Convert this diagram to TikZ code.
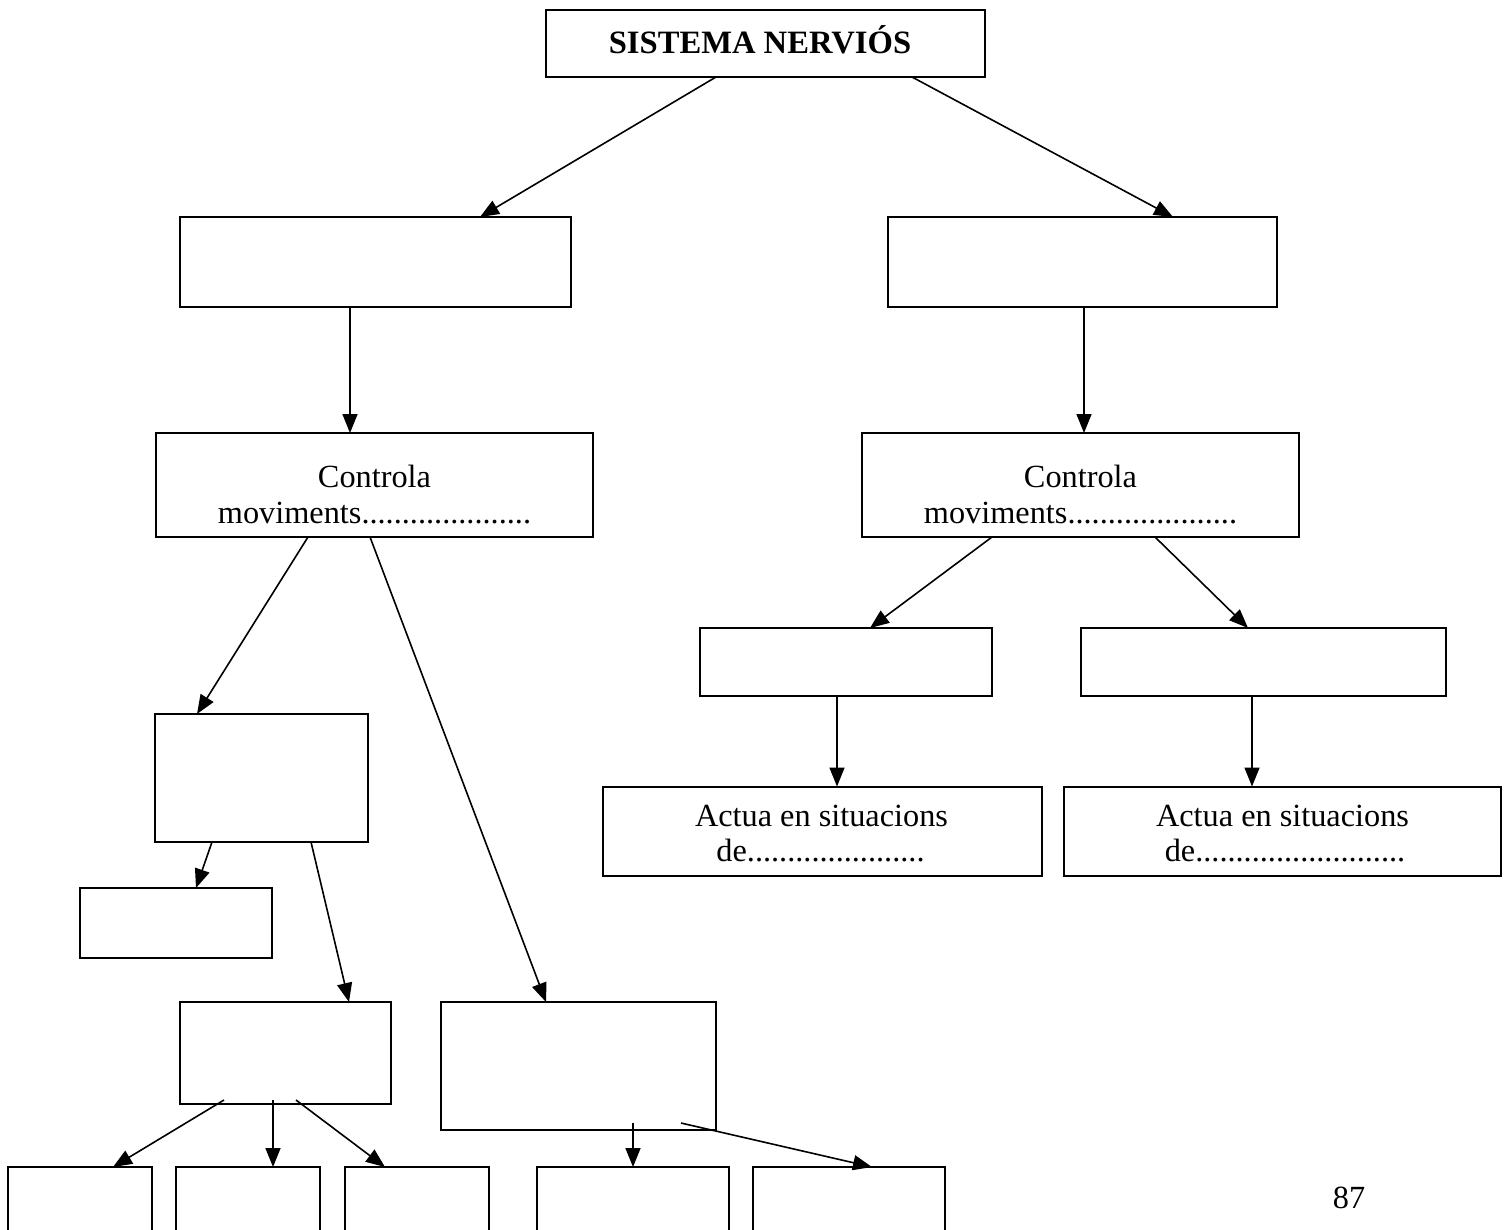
\documentclass[tikz,border=0pt]{standalone}
\usepackage{fontspec}
\setmainfont{Liberation Serif}
\usetikzlibrary{arrows.meta}
\begin{document}
\begin{tikzpicture}[x=1pt,y=-1pt,
  box/.style={draw, line width=2pt, inner sep=0pt, outer sep=0pt, rectangle, anchor=center},
  lbl/.style={inner sep=0pt, anchor=base, font=\fontsize{32.3}{36}\selectfont},
  conn/.style={line width=1.6pt, -{Triangle[length=19pt,width=15pt]}}
]
\useasboundingbox (0,0) rectangle (1511,1229);
\clip (0,0) rectangle (1511,1229);
\fill[white] (0,0) rectangle (1511,1229);

% boxes
\node[box, minimum width=439pt, minimum height=67pt] (top) at (765.5,43.5) {};
\node[box, minimum width=391pt, minimum height=90pt] (A) at (375.5,262) {};
\node[box, minimum width=389pt, minimum height=90pt] (B) at (1082.5,262) {};
\node[box, minimum width=437pt, minimum height=104pt] (C) at (374.5,485) {};
\node[box, minimum width=437pt, minimum height=104pt] (D) at (1080.5,485) {};
\node[box, minimum width=292pt, minimum height=68pt] (E) at (846,662) {};
\node[box, minimum width=365pt, minimum height=68pt] (F) at (1263.5,662) {};
\node[box, minimum width=439pt, minimum height=89pt] (G) at (822.5,831) {};
\node[box, minimum width=437pt, minimum height=89pt] (H) at (1282.5,831) {};
\node[box, minimum width=213pt, minimum height=128pt] (I) at (261.5,778) {};
\node[box, minimum width=192pt, minimum height=70pt] (J) at (176,923) {};
\node[box, minimum width=211pt, minimum height=102pt] (K) at (285.5,1053) {};
\node[box, minimum width=275pt, minimum height=128pt] (L) at (578.5,1066) {};
\node[box, minimum width=144pt, minimum height=113pt] (M1) at (80,1223.5) {};
\node[box, minimum width=144pt, minimum height=113pt] (M2) at (248,1223.5) {};
\node[box, minimum width=144pt, minimum height=113pt] (M3) at (417,1223.5) {};
\node[box, minimum width=192pt, minimum height=113pt] (M4) at (633,1223.5) {};
\node[box, minimum width=192pt, minimum height=113pt] (M5) at (849,1223.5) {};

% texts
\node[lbl, font=\fontsize{32.6}{36}\selectfont\bfseries] (ttop) at (760,53) {SISTEMA NERVIÓS};
\node[lbl] (c1) at (374.5,487) {Controla};
\node[lbl] (c2) at (374.5,523) {moviments.....................};
\node[lbl] (d1) at (1080.5,487) {Controla};
\node[lbl] (d2) at (1080.5,523) {moviments.....................};
\node[lbl] (g1) at (821.5,826.5) {Actua en situacions};
\node[lbl] (g2) at (820.5,861.5) {de......................};
\node[lbl] (h1) at (1282.5,826.5) {Actua en situacions};
\node[lbl] (h2) at (1285,861.5) {de..........................};
\node[lbl] (page) at (1349,1208) {87};

% connectors
\draw[conn] ([xshift=-49.5pt]top.south) -- ([xshift=104.5pt]A.north);
\draw[conn] ([xshift=146.5pt]top.south) -- ([xshift=90.5pt]B.north);
\draw[conn] ([xshift=-25.5pt]A.south) -- ([xshift=-25.5pt]A.south |- C.north);
\draw[conn] ([xshift=1.5pt]B.south) -- ([xshift=1.5pt]B.south |- D.north);
\draw[conn] ([xshift=-88.5pt]D.south) -- ([xshift=24pt]E.north);
\draw[conn] ([xshift=74.5pt]D.south) -- ([xshift=-15.5pt]F.north);
\draw[conn] ([xshift=-9pt]E.south) -- ([xshift=-9pt]E.south |- G.north);
\draw[conn] ([xshift=-11.5pt]F.south) -- ([xshift=-11.5pt]F.south |- H.north);
\draw[conn] ([xshift=-66.5pt]C.south) -- ([xshift=-64.5pt]I.north);
\draw[conn] ([xshift=-4.5pt]C.south) -- ([xshift=-32.5pt]L.north);
\draw[conn] ([xshift=-49.5pt]I.south) -- ([xshift=20pt]J.north);
\draw[conn] ([xshift=49.5pt]I.south) -- ([xshift=63.5pt]K.north);
\draw[conn] ([xshift=-61.5pt,yshift=4pt]K.south) -- ([xshift=33pt]M1.north);
\draw[conn] ([xshift=-12.5pt,yshift=4pt]K.south) -- ([xshift=-12.5pt]K.south |- M2.north);
\draw[conn] ([xshift=10.5pt,yshift=4pt]K.south) -- ([xshift=-32pt]M3.north);
\draw[conn] ([xshift=54.5pt,yshift=7pt]L.south) -- ([xshift=54.5pt]L.south |- M4.north);
\draw[conn] ([xshift=102.5pt,yshift=7pt]L.south) -- ([xshift=23pt]M5.north);
\end{tikzpicture}
\end{document}
